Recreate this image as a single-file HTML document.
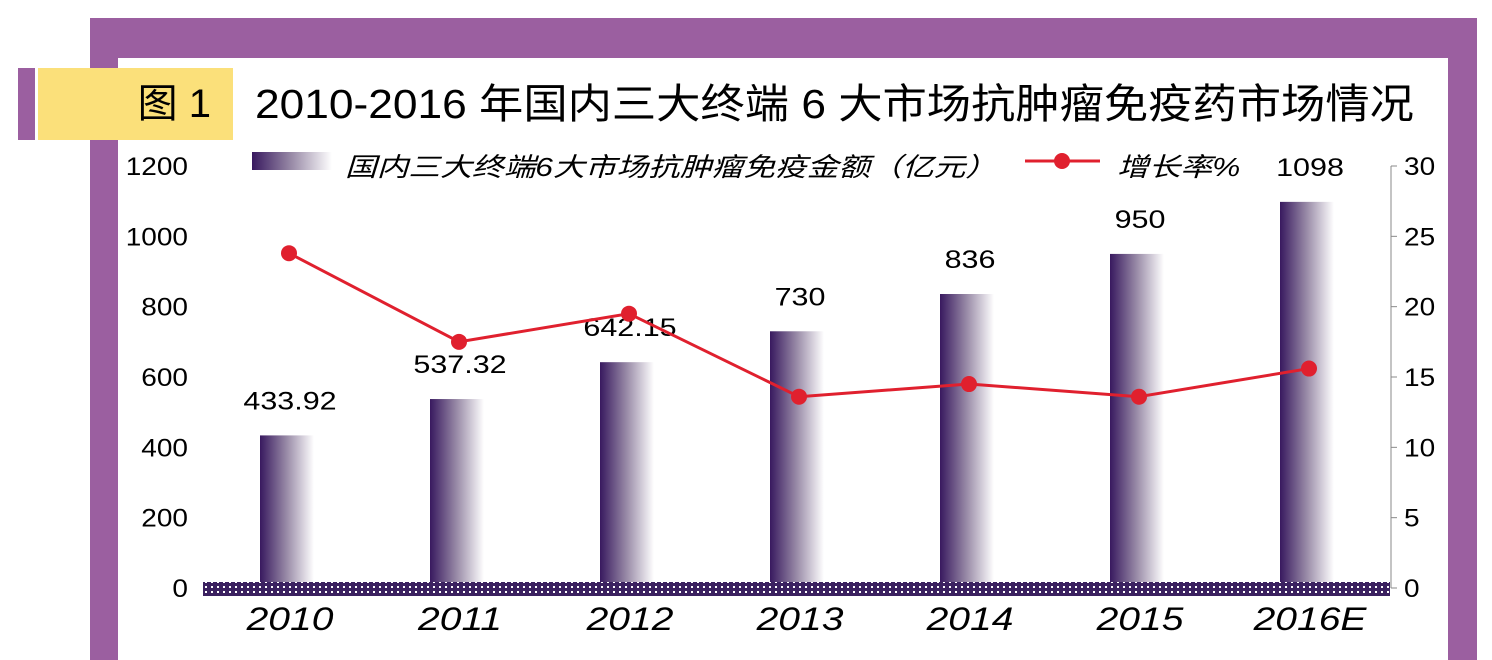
<!DOCTYPE html>
<html><head><meta charset="utf-8"><style>
body{margin:0;width:1492px;height:660px;background:#fff;overflow:hidden;position:relative;font-family:"Liberation Sans","Noto Sans CJK SC",sans-serif}
</style></head><body>
<div style="position:absolute;left:90px;top:18px;width:1387px;height:642px;background:#9b5fa0"></div>
<div style="position:absolute;left:118px;top:58px;width:1330px;height:602px;background:#fff"></div>
<div style="position:absolute;left:18px;top:68px;width:17px;height:72px;background:#9b5fa0"></div>
<div style="position:absolute;left:38px;top:68px;width:195px;height:72px;background:#fbe07a;font-size:40px;line-height:72px;text-align:right;box-sizing:border-box;padding-right:22px">图 1</div>
<div style="position:absolute;left:255px;top:76px;font-size:41px;line-height:56px;white-space:nowrap;transform:scaleX(1.08);transform-origin:0 0">2010-2016 年国内三大终端 6 大市场抗肿瘤免疫药市场情况</div>
<svg width="1492" height="660" style="position:absolute;left:0;top:0">
<defs>
<linearGradient id="bg" x1="0" x2="1"><stop offset="0" stop-color="#38195f"/><stop offset="0.5" stop-color="#9a8ca8"/><stop offset="1" stop-color="#fff"/></linearGradient>
<pattern id="dots" width="6" height="5" patternUnits="userSpaceOnUse"><rect width="6" height="5" fill="#3b2160"/><rect x="1" y="1" width="2" height="2" fill="#fff"/></pattern>
</defs>
<g id="g"></g>
</svg>
<script>
const categories=["2010","2011","2012","2013","2014","2015","2016E"];
const amounts=[433.92,537.32,642.15,730,836,950,1098];
const amountLabels=["433.92","537.32","642.15","730","836","950","1098"];
const growth=[23.8,17.5,19.5,13.6,14.5,13.6,15.6];
const leftTicks=[0,200,400,600,800,1000,1200];
const rightTicks=[0,5,10,15,20,25,30];
const g=document.getElementById('g');
const NS="http://www.w3.org/2000/svg";
const yL=v=>588-v/1200*422, yR=v=>588-v/30*422, xC=i=>290+i*170;
function mk(t,a,txt){const e=document.createElementNS(NS,t);for(const k in a)e.setAttribute(k,a[k]);if(txt!==undefined)e.textContent=txt;g.appendChild(e);return e;}
function tx(x,y,s,sx,a,txt){const e=mk('text',Object.assign({x:0,y:0,transform:'translate('+x+','+y+') scale('+sx+',1)','font-size':s},a),txt);return e;}
leftTicks.forEach(v=>{const e=tx(188,yL(v)+9,25,1.12,{'text-anchor':'end'},v);

});
rightTicks.forEach(v=>{const e=tx(1404,yR(v)+9,25,1.12,{},v);

});
mk('line',{x1:1391,y1:166,x2:1391,y2:588,stroke:'#888','stroke-width':1});
rightTicks.forEach(v=>mk('line',{x1:1391,y1:yR(v),x2:1397,y2:yR(v),stroke:'#888'}));
amounts.forEach((v,i)=>{const b=mk('rect',{x:xC(i)-30,y:yL(v),width:54,height:588-yL(v),fill:'url(#bg)'});


const t=tx(xC(i),yL(v)-26,25,1.22,{'text-anchor':'middle'},amountLabels[i]);


const c=tx(xC(i),630,32,1.22,{'text-anchor':'middle','font-style':'italic'},categories[i]);

});
const ax=mk('rect',{x:203,y:582,width:1187,height:14,fill:'url(#dots)'});


const ln=mk('polyline',{points:growth.map((v,i)=>(xC(i)-1)+','+yR(v)).join(' '),fill:'none',stroke:'#e0202e','stroke-width':3});


growth.forEach((v,i)=>{const p=mk('circle',{cx:xC(i)-1,cy:yR(v),r:8,fill:'#e0202e'});

});
const lb=mk('rect',{x:252,y:152,width:80,height:18,fill:'url(#bg)'});


const lt=tx(345,176,26,1.22,{'font-style':'italic'},'国内三大终端6大市场抗肿瘤免疫金额（亿元）');


mk('line',{x1:1025,y1:161,x2:1100,y2:161,stroke:'#e0202e','stroke-width':3});
const lc=mk('circle',{cx:1062,cy:161,r:8,fill:'#e0202e'});


const lt2=tx(1117,176,26,1.22,{'font-style':'italic'},'增长率%');


</script>
</body></html>
